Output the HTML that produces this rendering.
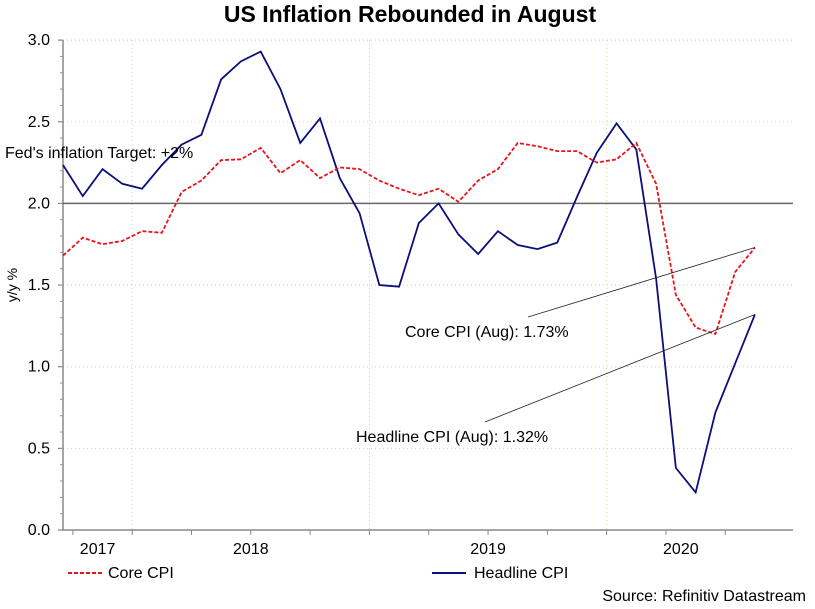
<!DOCTYPE html>
<html><head><meta charset="utf-8"><style>
body{margin:0;background:#fff;width:815px;height:604px;overflow:hidden}
svg text{font-family:"Liberation Sans",sans-serif;fill:#000}
</style></head><body>
<svg width="815" height="604">
<text x="410" y="22" text-anchor="middle" font-size="23" font-weight="bold">US Inflation Rebounded in August</text>
<g id="grid"></g>
<g id="axes"></g>
<g id="series"></g>
<text x="5" y="158" font-size="16">Fed's inflation Target: +2%</text>
<text transform="translate(17,285) rotate(-90)" text-anchor="middle" font-size="14">y/y %</text>
<g>
<line x1="68" y1="573" x2="102" y2="573" stroke="#e8141c" stroke-width="2" stroke-dasharray="4,2"/>
<text x="108" y="578" font-size="16">Core CPI</text>
<line x1="432" y1="573" x2="466" y2="573" stroke="#0a0f7a" stroke-width="2"/>
<text x="474" y="578" font-size="16">Headline CPI</text>
</g>
<text x="806" y="601" text-anchor="end" font-size="16">Source: Refinitiv Datastream</text>
</svg>
<script>
const months = ["Sep17","Oct17","Nov17","Dec17","Jan18","Feb18","Mar18","Apr18","May18","Jun18","Jul18","Aug18","Sep18","Oct18","Nov18","Dec18","Jan19","Feb19","Mar19","Apr19","May19","Jun19","Jul19","Aug19","Sep19","Oct19","Nov19","Dec19","Jan20","Feb20","Mar20","Apr20","May20","Jun20","Jul20","Aug20"];
const headline = [2.235,2.045,2.21,2.12,2.09,2.235,2.36,2.42,2.76,2.87,2.93,2.70,2.37,2.52,2.155,1.94,1.50,1.49,1.88,2.00,1.81,1.69,1.83,1.745,1.72,1.76,2.04,2.31,2.49,2.33,1.54,0.38,0.23,0.72,1.02,1.32];
const core = [1.68,1.79,1.75,1.77,1.83,1.82,2.07,2.14,2.265,2.27,2.34,2.185,2.265,2.155,2.22,2.21,2.14,2.09,2.05,2.09,2.01,2.14,2.21,2.37,2.35,2.32,2.32,2.25,2.27,2.37,2.12,1.44,1.24,1.20,1.58,1.73];
const yTicks = [0,0.5,1.0,1.5,2.0,2.5,3.0];
const yearLabels = ["2017","2018","2019","2020"];
const target = 2.0;
const NS="http://www.w3.org/2000/svg";
const X0=63, DX=19.77, Y0=530, YS=163.3, XR=793;
const xs=i=>X0+i*DX, ys=v=>Y0-v*YS;
function mk(tag,attrs,parent){const e=document.createElementNS(NS,tag);for(const k in attrs)e.setAttribute(k,attrs[k]);document.getElementById(parent).appendChild(e);return e;}
yTicks.forEach(v=>{if(v>0){const g=mk('line',{x1:X0,x2:XR,y1:ys(v),y2:ys(v),stroke:'#c8d8a0','stroke-dasharray':'1,3'},'grid');

}
const t=mk('text',{x:50,y:ys(v)+5,'text-anchor':'end','font-size':16},'axes');t.textContent=v.toFixed(1);


const tk=mk('line',{x1:X0-5,x2:X0,y1:ys(v),y2:ys(v),stroke:'#666'},'axes');

});
for(let v=0.1;v<3;v+=0.1){const m=mk('line',{x1:X0-3,x2:X0,y1:ys(v),y2:ys(v),stroke:'#999'},'axes');

}
const janIdx=[4,16,28];
janIdx.forEach(i=>{const x=xs(i)-DX*0.5;const g=mk('line',{x1:x,x2:x,y1:ys(3),y2:Y0+6,stroke:'#c8d8a0','stroke-dasharray':'1,3'},'grid');

});
for(let q=-2;q<=10;q++){const x=xs(4)-DX*0.5+q*3*DX;if(x<X0||x>XR)continue;const t=mk('line',{x1:x,x2:x,y1:Y0,y2:Y0+5,stroke:'#888'},'axes');

}
const yearCenters=[ (X0+xs(4)-DX*0.5)/2, xs(10)-DX*0.5, xs(22)-DX*0.5, (xs(28)-DX*0.5+xs(35))/2 ];
yearLabels.forEach((y,i)=>{const t=mk('text',{x:yearCenters[i],y:554,'text-anchor':'middle','font-size':16},'axes');t.textContent=y;

});
const ax=mk('path',{d:`M${X0},${ys(3)}V${Y0}H${XR}`,stroke:'#888',fill:'none','stroke-width':1.5},'axes');


const tl=mk('line',{x1:X0,x2:XR,y1:ys(target),y2:ys(target),stroke:'#666','stroke-width':1.5},'series');


const hp=mk('polyline',{points:headline.map((v,i)=>xs(i)+','+ys(v)).join(' '),fill:'none',stroke:'#0a0f7a','stroke-width':1.8},'series');


const cp=mk('polyline',{points:core.map((v,i)=>xs(i)+','+ys(v)).join(' '),fill:'none',stroke:'#e8141c','stroke-width':1.8,'stroke-dasharray':'4,2'},'series');


const L=core.length-1;
const c1=mk('line',{x1:528,y1:317,x2:xs(L),y2:ys(core[L]),stroke:'#222','stroke-width':0.8},'series');


const c2=mk('line',{x1:485,y1:422,x2:xs(L),y2:ys(headline[L]),stroke:'#222','stroke-width':0.8},'series');


const a1=mk('text',{x:405,y:337,'font-size':16},'series');a1.textContent='Core CPI (Aug): '+core[L].toFixed(2)+'%';


const a2=mk('text',{x:356,y:442,'font-size':16},'series');a2.textContent='Headline CPI (Aug): '+headline[L].toFixed(2)+'%';


</script>
</body></html>
